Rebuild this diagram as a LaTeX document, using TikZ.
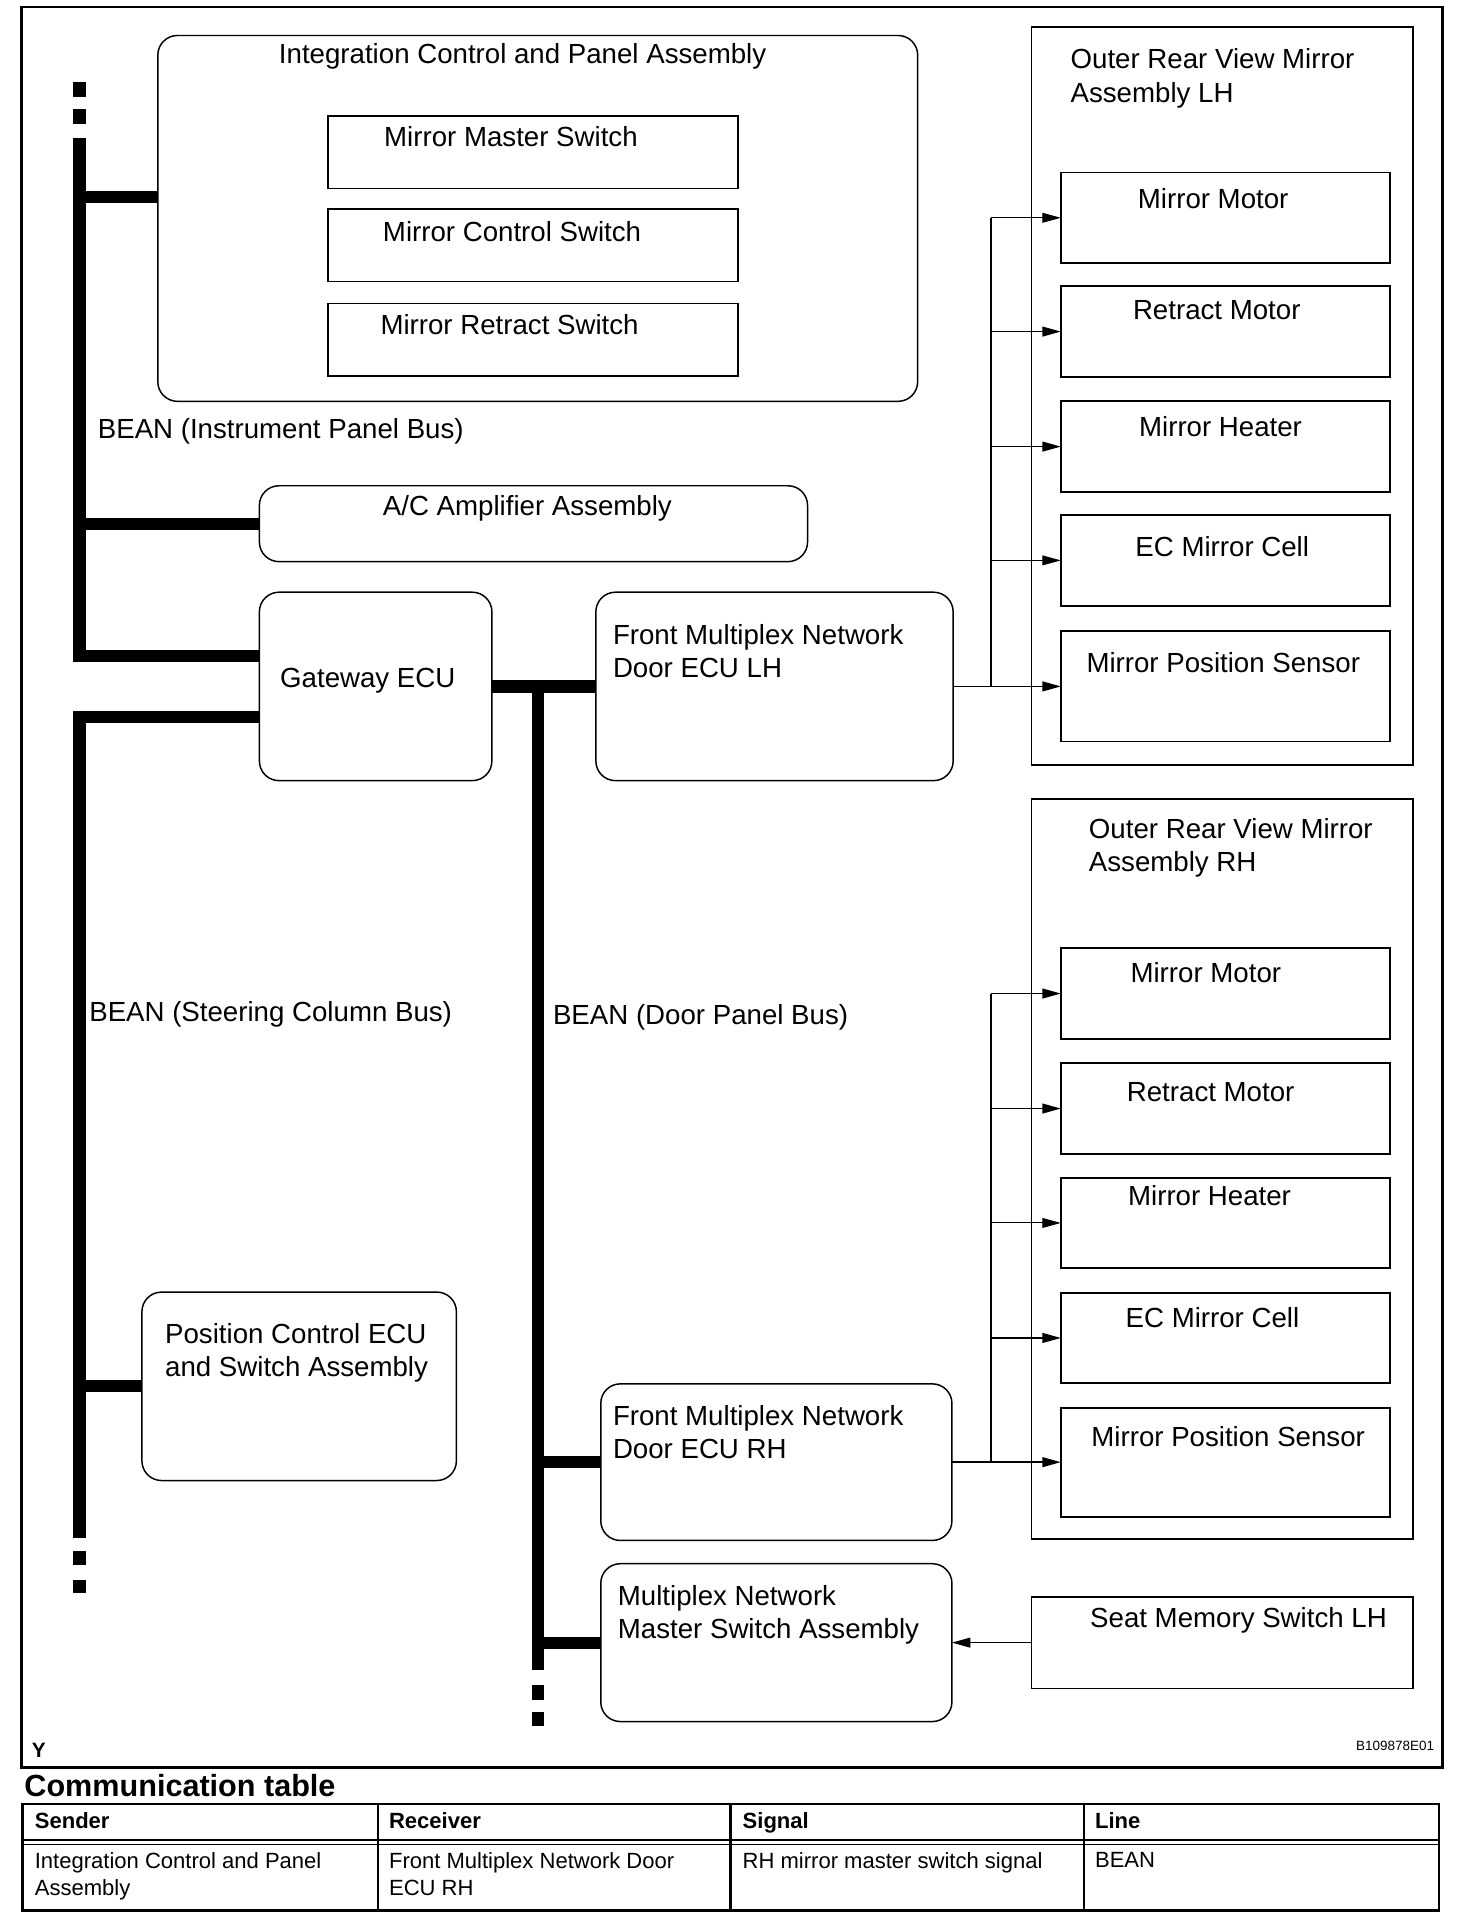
\documentclass[tikz,border=0pt]{standalone}
\usepackage{fontspec}
\setmainfont{Liberation Sans}
\usetikzlibrary{arrows.meta}
\begin{document}
\begin{tikzpicture}[x=1pt,y=-1pt,
  every node/.style={inner sep=0pt,outer sep=0pt},
  rbox/.style={draw,line width=1.2pt,rounded corners=16pt},
  sbox/.style={draw,line width=1.5pt},
  txt/.style={font=\fontsize{22.6}{27}\selectfont,anchor=base west},
  mtxt/.style={font=\fontsize{22.6}{27}\selectfont,anchor=north west,align=left},
  bus/.style={line width=10pt},
  conn/.style={line width=1.2pt},
  arr/.style={line width=1.2pt,-{Triangle[length=15pt,width=8pt]}},
  farr/.style={line width=0.8pt,-{Triangle[length=15pt,width=8pt]}},
  tline/.style={line width=2.2pt},
  ttxt/.style={font=\fontsize{18}{22}\selectfont,anchor=base west},
  tmtxt/.style={font=\fontsize{18}{22}\selectfont,anchor=north west,align=left},
  thead/.style={font=\bfseries\fontsize{18}{22}\selectfont,anchor=base west},
]
\useasboundingbox (0,0) rectangle (1190,1569.2);
% outer frame
\draw[line width=2.2pt] (17.7,5.7) rectangle (1179,1444.8);

% boxes
\node[rbox,minimum width=621pt,minimum height=299pt] (intg) at (439.5,178.5) {};
\node[sbox,minimum width=335pt,minimum height=59pt] (mms) at (435.5,124.5) {};
\node[sbox,minimum width=335pt,minimum height=59pt] (mcs) at (435.5,200.5) {};
\node[sbox,minimum width=335pt,minimum height=59pt] (mrs) at (435.5,277.5) {};
\node[rbox,minimum width=448pt,minimum height=62pt] (ac) at (436,428) {};
\node[rbox,minimum width=190pt,minimum height=154pt] (gw) at (307,561) {};
\node[rbox,minimum width=292pt,minimum height=154pt] (flh) at (633,561) {};
\node[sbox,minimum width=312pt,minimum height=603pt] (orvl) at (999,323.5) {};
\node[sbox,minimum width=269pt,minimum height=74pt] (mm1) at (1001.5,178) {};
\node[sbox,minimum width=269pt,minimum height=74pt] (rm1) at (1001.5,271) {};
\node[sbox,minimum width=269pt,minimum height=74pt] (mh1) at (1001.5,365) {};
\node[sbox,minimum width=269pt,minimum height=74pt] (ec1) at (1001.5,458) {};
\node[sbox,minimum width=269pt,minimum height=90pt] (mps1) at (1001.5,561) {};
\node[sbox,minimum width=312pt,minimum height=605pt] (orvr) at (999,955.5) {};
\node[sbox,minimum width=269pt,minimum height=74pt] (mm2) at (1001.5,812) {};
\node[sbox,minimum width=269pt,minimum height=74pt] (rm2) at (1001.5,906) {};
\node[sbox,minimum width=269pt,minimum height=73pt] (mh2) at (1001.5,999.5) {};
\node[sbox,minimum width=269pt,minimum height=73pt] (ec2) at (1001.5,1093.5) {};
\node[sbox,minimum width=269pt,minimum height=89pt] (mps2) at (1001.5,1195) {};
\node[rbox,minimum width=257pt,minimum height=154pt] (pce) at (244.5,1133) {};
\node[rbox,minimum width=287pt,minimum height=128pt] (frh) at (634.5,1195) {};
\node[rbox,minimum width=287pt,minimum height=129pt] (mnms) at (634.5,1342.5) {};
\node[sbox,minimum width=312pt,minimum height=75pt] (smsw) at (999,1342.5) {};

% texts
\node[txt] (t-intg) at (228,52) {Integration Control and Panel Assembly};
\node[txt] (t-mms) at (314,120) {Mirror Master Switch};
\node[txt] (t-mcs) at (313,197) {Mirror Control Switch};
\node[txt] (t-mrs) at (311,273) {Mirror Retract Switch};
\node[txt] (t-ipb) at (80,358) {BEAN (Instrument Panel Bus)};
\node[txt] (t-ac) at (313,421) {A/C Amplifier Assembly};
\node[txt] (t-gw) at (229,562) {Gateway ECU};
\node[mtxt] (t-flh) at (501,510.5) {Front Multiplex Network\\Door ECU LH};
\node[mtxt] (t-orvl) at (875,40) {Outer Rear View Mirror\\Assembly LH};
\node[txt] (t-mm1) at (930,170) {Mirror Motor};
\node[txt] (t-rm1) at (926,261) {Retract Motor};
\node[txt] (t-mh1) at (931,357) {Mirror Heater};
\node[txt] (t-ec1) at (928,455) {EC Mirror Cell};
\node[txt] (t-mps1) at (888,550) {Mirror Position Sensor};
\node[mtxt] (t-orvr) at (890,669) {Outer Rear View Mirror\\Assembly RH};
\node[txt] (t-mm2) at (924,803) {Mirror Motor};
\node[txt] (t-rm2) at (921,900) {Retract Motor};
\node[txt] (t-mh2) at (922,985) {Mirror Heater};
\node[txt] (t-ec2) at (920,1085) {EC Mirror Cell};
\node[txt] (t-mps2) at (892,1182) {Mirror Position Sensor};
\node[txt] (t-scb) at (73,835) {BEAN (Steering Column Bus)};
\node[txt] (t-dpb) at (452,837) {BEAN (Door Panel Bus)};
\node[mtxt] (t-pce) at (135,1082) {Position Control ECU\\and Switch Assembly};
\node[mtxt] (t-frh) at (501,1149) {Front Multiplex Network\\Door ECU RH};
\node[mtxt] (t-mnms) at (505,1296) {Multiplex Network\\Master Switch Assembly};
\node[txt] (t-sms) at (891,1330) {Seat Memory Switch LH};

% instrument panel bus
\fill (60,67) rectangle (70,79);
\fill (60,89) rectangle (70,101);
\coordinate (ibtop) at (65,113);
\coordinate (ibc) at (65,536);
\coordinate (ib1) at (65,161);
\coordinate (ib2) at (65,428);
\draw[bus] (ibtop) -- (ibc) -- (ibc -| gw.west);
\draw[bus] (ib1) -- (ib1 -| intg.west);
\draw[bus] (ib2) -- (ac.west);

% steering column bus
\coordinate (sbc) at (65,586);
\coordinate (sbbot) at (65,1257);
\coordinate (sb1) at (65,1133);
\draw[bus] (sbc -| gw.west) -- (sbc) -- (sbbot);
\draw[bus] (sb1) -- (pce.west);
\fill (60,1268) rectangle (70,1279);
\fill (60,1291) rectangle (70,1302);

% door panel bus
\draw[bus] (gw.east) -- (flh.west);
\coordinate (dbtop) at (440,556);
\coordinate (dbbot) at (440,1365);
\draw[bus] (dbtop) -- (dbbot);
\draw[bus] (dbtop |- frh.west) -- (frh.west);
\draw[bus] (dbtop |- mnms.west) -- (mnms.west);
\fill (435,1377) rectangle (445,1389);
\fill (435,1399) rectangle (445,1411);

% LH mirror signals
\coordinate (lhs) at (810,561);
\draw[conn] (lhs) -- (lhs |- mm1.west);
\draw[arr] (flh.east) -- (mps1.west);
\draw[farr] (lhs |- mm1.west) -- (mm1.west);
\draw[arr] (lhs |- rm1.west) -- (rm1.west);
\draw[arr] (lhs |- mh1.west) -- (mh1.west);
\draw[farr] (lhs |- ec1.west) -- (ec1.west);

% RH mirror signals
\coordinate (rhs) at (810,1195);
\draw[conn] (rhs) -- (rhs |- mm2.west);
\draw[arr] (frh.east) -- (mps2.west);
\draw[arr] (rhs |- mm2.west) -- (mm2.west);
\draw[arr] (rhs |- rm2.west) -- (rm2.west);
\draw[farr] (rhs |- mh2.west) -- (mh2.west);
\draw[arr] (rhs |- ec2.west) -- (ec2.west);

% seat memory switch
\draw[arr] (smsw.west) -- (mnms.east);

% frame labels
\node[font=\bfseries\fontsize{17}{19}\selectfont,anchor=base west] (ylab) at (26,1436) {Y};
\node[font=\fontsize{11}{13}\selectfont,anchor=base east] (code) at (1172,1431) {B109878E01};

% communication table
\node[font=\bfseries\fontsize{25}{30}\selectfont,anchor=base west] (ctitle) at (20,1468) {Communication table};
\draw[tline] (18.5,1474.5) rectangle (1176,1561.6);
\draw[line width=1.9pt] (309,1474.5) -- (309,1561.6);
\draw[line width=1.9pt] (597,1474.5) -- (597,1561.6);
\draw[line width=1.9pt] (886,1474.5) -- (886,1561.6);
\draw[line width=1.3pt] (18.5,1503.8) -- (1176,1503.8);
\draw[line width=1.3pt] (18.5,1507.4) -- (1176,1507.4);
\node[thead] (h1) at (28.5,1494.5) {Sender};
\node[thead] (h2) at (318,1494.5) {Receiver};
\node[thead] (h3) at (607,1494.5) {Signal};
\node[thead] (h4) at (895,1494.5) {Line};
\node[tmtxt] (c1) at (28.5,1514) {Integration Control and Panel\\Assembly};
\node[tmtxt] (c2) at (318,1514) {Front Multiplex Network Door\\ECU RH};
\node[tmtxt] (c3) at (607,1514) {RH mirror master switch signal};
\node[tmtxt] (c4) at (895,1514) {BEAN};
\end{tikzpicture}
\end{document}
